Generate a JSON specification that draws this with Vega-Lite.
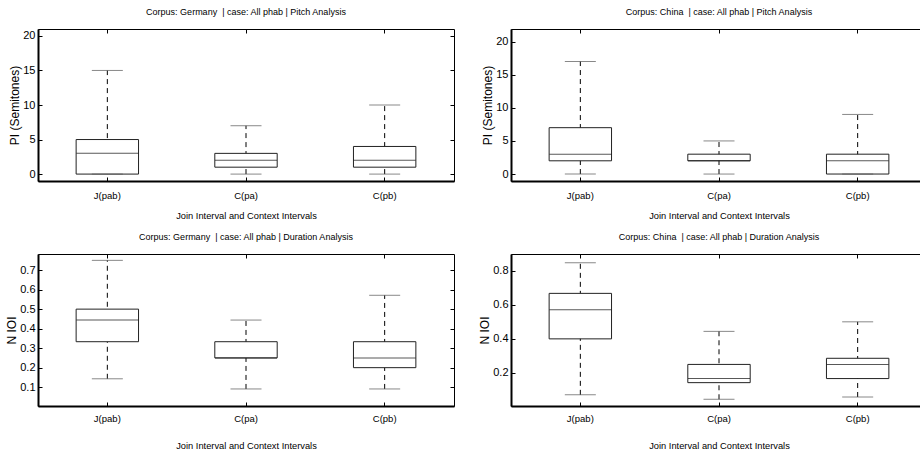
{
  "$schema": "https://vega.github.io/schema/vega-lite/v6.json",
  "background": "white",
  "padding": {"left": 5, "top": 7, "right": 0, "bottom": 0},
  "bounds": "flush",
  "columns": 2,
  "spacing": {"row": 73, "column": 57},
  "datasets": {
    "gp": [
      {"cat": "J(pab)", "lo": 0, "q1": 0, "med": 3, "q3": 5, "hi": 15},
      {"cat": "C(pa)", "lo": 0, "q1": 1, "med": 2, "q3": 3, "hi": 7},
      {"cat": "C(pb)", "lo": 0, "q1": 1, "med": 2, "q3": 4, "hi": 10}
    ],
    "cp": [
      {"cat": "J(pab)", "lo": 0, "q1": 2, "med": 3, "q3": 7, "hi": 17},
      {"cat": "C(pa)", "lo": 0, "q1": 2, "med": 2, "q3": 3, "hi": 5},
      {"cat": "C(pb)", "lo": 0, "q1": 0, "med": 2, "q3": 3, "hi": 9}
    ],
    "gd": [
      {"cat": "J(pab)", "lo": 0.143, "q1": 0.333, "med": 0.444, "q3": 0.5, "hi": 0.75},
      {"cat": "C(pa)", "lo": 0.0909, "q1": 0.25, "med": 0.25, "q3": 0.333, "hi": 0.444},
      {"cat": "C(pb)", "lo": 0.0909, "q1": 0.2, "med": 0.25, "q3": 0.333, "hi": 0.571}
    ],
    "cd": [
      {"cat": "J(pab)", "lo": 0.0714, "q1": 0.4, "med": 0.571, "q3": 0.667, "hi": 0.846},
      {"cat": "C(pa)", "lo": 0.0455, "q1": 0.143, "med": 0.167, "q3": 0.25, "hi": 0.444},
      {"cat": "C(pb)", "lo": 0.0588, "q1": 0.167, "med": 0.25, "q3": 0.286, "hi": 0.5}
    ]
  },
  "concat": [
    {
      "width": 416, "height": 152,
      "title": {"text": "Corpus: Germany\u00a0 | case: All phab | Pitch Analysis"},
      "data": {"name": "gp"},
      "resolve": {"axis": {"x": "independent", "y": "independent"}},
      "layer": [
        {"mark": {"type": "rule", "strokeDash": [5, 4], "color": "black", "strokeWidth": 1},
         "encoding": {
           "x": {"field": "cat", "type": "nominal", "sort": ["J(pab)", "C(pa)", "C(pb)"], "scale": {"paddingInner": 0, "paddingOuter": 0},
                 "axis": {"orient": "bottom", "title": "Join Interval and Context Intervals", "labelAngle": 0, "labelFontSize": 9.5, "titleFontSize": 9.3, "tickSize": -4, "labelPadding": 13, "titlePadding": 12, "domainWidth": 2}},
           "y": {"field": "lo", "type": "quantitative", "scale": {"domain": [-1, 21], "nice": false, "zero": false},
                 "axis": {"orient": "left", "title": "PI (Semitones)", "values": [0, 5, 10, 15, 20], "labelFontSize": 11, "titleFontSize": 12, "tickSize": -4, "labelPadding": 7, "titlePadding": 1, "domainWidth": 2}},
           "y2": {"field": "hi"}}},
        {"mark": {"type": "bar", "fill": "white", "stroke": "#222222", "strokeWidth": 1, "width": {"band": 0.45}},
         "encoding": {
           "x": {"field": "cat", "type": "nominal", "sort": ["J(pab)", "C(pa)", "C(pb)"], "axis": {"orient": "top", "labels": false, "title": null, "tickSize": -4, "domain": false}},
           "y": {"field": "q1", "type": "quantitative", "axis": {"orient": "right", "labels": false, "title": null, "values": [0, 5, 10, 15, 20], "tickSize": -4, "domain": false}},
           "y2": {"field": "q3"}}},
        {"mark": {"type": "tick", "orient": "horizontal", "size": 31, "thickness": 1, "color": "#555555"},
         "encoding": {"x": {"field": "cat", "type": "nominal", "sort": ["J(pab)", "C(pa)", "C(pb)"], "axis": null}, "y": {"field": "hi", "type": "quantitative", "axis": null}}},
        {"mark": {"type": "tick", "orient": "horizontal", "size": 31, "thickness": 1, "color": "#555555"},
         "encoding": {"x": {"field": "cat", "type": "nominal", "sort": ["J(pab)", "C(pa)", "C(pb)"], "axis": null}, "y": {"field": "lo", "type": "quantitative", "axis": null}}},
        {"mark": {"type": "tick", "orient": "horizontal", "size": 62, "thickness": 1, "color": "#111111"},
         "encoding": {"x": {"field": "cat", "type": "nominal", "sort": ["J(pab)", "C(pa)", "C(pb)"], "axis": null}, "y": {"field": "med", "type": "quantitative", "axis": null}}}
      ]
    },
    {
      "width": 416, "height": 152,
      "title": {"text": "Corpus: China\u00a0 | case: All phab | Pitch Analysis"},
      "data": {"name": "cp"},
      "resolve": {"axis": {"x": "independent", "y": "independent"}},
      "layer": [
        {"mark": {"type": "rule", "strokeDash": [5, 4], "color": "black", "strokeWidth": 1},
         "encoding": {
           "x": {"field": "cat", "type": "nominal", "sort": ["J(pab)", "C(pa)", "C(pb)"], "scale": {"paddingInner": 0, "paddingOuter": 0},
                 "axis": {"orient": "bottom", "title": "Join Interval and Context Intervals", "labelAngle": 0, "labelFontSize": 9.5, "titleFontSize": 9.3, "tickSize": -4, "labelPadding": 13, "titlePadding": 12, "domainWidth": 2}},
           "y": {"field": "lo", "type": "quantitative", "scale": {"domain": [-1.05, 21.9], "nice": false, "zero": false},
                 "axis": {"orient": "left", "title": "PI (Semitones)", "values": [0, 5, 10, 15, 20], "labelFontSize": 11, "titleFontSize": 12, "tickSize": -4, "labelPadding": 7, "titlePadding": 1, "domainWidth": 2}},
           "y2": {"field": "hi"}}},
        {"mark": {"type": "bar", "fill": "white", "stroke": "#222222", "strokeWidth": 1, "width": {"band": 0.45}},
         "encoding": {
           "x": {"field": "cat", "type": "nominal", "sort": ["J(pab)", "C(pa)", "C(pb)"], "axis": {"orient": "top", "labels": false, "title": null, "tickSize": -4, "domain": false}},
           "y": {"field": "q1", "type": "quantitative", "axis": {"orient": "right", "labels": false, "title": null, "values": [0, 5, 10, 15, 20], "tickSize": -4, "domain": false}},
           "y2": {"field": "q3"}}},
        {"mark": {"type": "tick", "orient": "horizontal", "size": 31, "thickness": 1, "color": "#555555"},
         "encoding": {"x": {"field": "cat", "type": "nominal", "sort": ["J(pab)", "C(pa)", "C(pb)"], "axis": null}, "y": {"field": "hi", "type": "quantitative", "axis": null}}},
        {"mark": {"type": "tick", "orient": "horizontal", "size": 31, "thickness": 1, "color": "#555555"},
         "encoding": {"x": {"field": "cat", "type": "nominal", "sort": ["J(pab)", "C(pa)", "C(pb)"], "axis": null}, "y": {"field": "lo", "type": "quantitative", "axis": null}}},
        {"mark": {"type": "tick", "orient": "horizontal", "size": 62, "thickness": 1, "color": "#111111"},
         "encoding": {"x": {"field": "cat", "type": "nominal", "sort": ["J(pab)", "C(pa)", "C(pb)"], "axis": null}, "y": {"field": "med", "type": "quantitative", "axis": null}}}
      ]
    },
    {
      "width": 416, "height": 152,
      "title": {"text": "Corpus: Germany\u00a0 | case: All phab | Duration Analysis"},
      "data": {"name": "gd"},
      "resolve": {"axis": {"x": "independent", "y": "independent"}},
      "layer": [
        {"mark": {"type": "rule", "strokeDash": [5, 4], "color": "black", "strokeWidth": 1},
         "encoding": {
           "x": {"field": "cat", "type": "nominal", "sort": ["J(pab)", "C(pa)", "C(pb)"], "scale": {"paddingInner": 0, "paddingOuter": 0},
                 "axis": {"orient": "bottom", "title": "Join Interval and Context Intervals", "labelAngle": 0, "labelFontSize": 9.5, "titleFontSize": 9.3, "tickSize": -4, "labelPadding": 11, "titlePadding": 19, "domainWidth": 2}},
           "y": {"field": "lo", "type": "quantitative", "scale": {"domain": [0.0035, 0.7826], "nice": false, "zero": false},
                 "axis": {"orient": "left", "title": "N IOI", "values": [0.1, 0.2, 0.3, 0.4, 0.5, 0.6, 0.7], "format": ".1f", "labelFontSize": 11, "titleFontSize": 12, "tickSize": -4, "labelPadding": 7, "titlePadding": 1, "domainWidth": 2}},
           "y2": {"field": "hi"}}},
        {"mark": {"type": "bar", "fill": "white", "stroke": "#222222", "strokeWidth": 1, "width": {"band": 0.45}},
         "encoding": {
           "x": {"field": "cat", "type": "nominal", "sort": ["J(pab)", "C(pa)", "C(pb)"], "axis": {"orient": "top", "labels": false, "title": null, "tickSize": -4, "domain": false}},
           "y": {"field": "q1", "type": "quantitative", "axis": {"orient": "right", "labels": false, "title": null, "values": [0.1, 0.2, 0.3, 0.4, 0.5, 0.6, 0.7], "tickSize": -4, "domain": false}},
           "y2": {"field": "q3"}}},
        {"mark": {"type": "tick", "orient": "horizontal", "size": 31, "thickness": 1, "color": "#555555"},
         "encoding": {"x": {"field": "cat", "type": "nominal", "sort": ["J(pab)", "C(pa)", "C(pb)"], "axis": null}, "y": {"field": "hi", "type": "quantitative", "axis": null}}},
        {"mark": {"type": "tick", "orient": "horizontal", "size": 31, "thickness": 1, "color": "#555555"},
         "encoding": {"x": {"field": "cat", "type": "nominal", "sort": ["J(pab)", "C(pa)", "C(pb)"], "axis": null}, "y": {"field": "lo", "type": "quantitative", "axis": null}}},
        {"mark": {"type": "tick", "orient": "horizontal", "size": 62, "thickness": 1, "color": "#111111"},
         "encoding": {"x": {"field": "cat", "type": "nominal", "sort": ["J(pab)", "C(pa)", "C(pb)"], "axis": null}, "y": {"field": "med", "type": "quantitative", "axis": null}}}
      ]
    },
    {
      "width": 416, "height": 152,
      "title": {"text": "Corpus: China\u00a0 | case: All phab | Duration Analysis"},
      "data": {"name": "cd"},
      "resolve": {"axis": {"x": "independent", "y": "independent"}},
      "layer": [
        {"mark": {"type": "rule", "strokeDash": [5, 4], "color": "black", "strokeWidth": 1},
         "encoding": {
           "x": {"field": "cat", "type": "nominal", "sort": ["J(pab)", "C(pa)", "C(pb)"], "scale": {"paddingInner": 0, "paddingOuter": 0},
                 "axis": {"orient": "bottom", "title": "Join Interval and Context Intervals", "labelAngle": 0, "labelFontSize": 9.5, "titleFontSize": 9.3, "tickSize": -4, "labelPadding": 11, "titlePadding": 19, "domainWidth": 2}},
           "y": {"field": "lo", "type": "quantitative", "scale": {"domain": [0.006, 0.898], "nice": false, "zero": false},
                 "axis": {"orient": "left", "title": "N IOI", "values": [0.2, 0.4, 0.6, 0.8], "format": ".1f", "labelFontSize": 11, "titleFontSize": 12, "tickSize": -4, "labelPadding": 7, "titlePadding": 1, "domainWidth": 2}},
           "y2": {"field": "hi"}}},
        {"mark": {"type": "bar", "fill": "white", "stroke": "#222222", "strokeWidth": 1, "width": {"band": 0.45}},
         "encoding": {
           "x": {"field": "cat", "type": "nominal", "sort": ["J(pab)", "C(pa)", "C(pb)"], "axis": {"orient": "top", "labels": false, "title": null, "tickSize": -4, "domain": false}},
           "y": {"field": "q1", "type": "quantitative", "axis": {"orient": "right", "labels": false, "title": null, "values": [0.2, 0.4, 0.6, 0.8], "tickSize": -4, "domain": false}},
           "y2": {"field": "q3"}}},
        {"mark": {"type": "tick", "orient": "horizontal", "size": 31, "thickness": 1, "color": "#555555"},
         "encoding": {"x": {"field": "cat", "type": "nominal", "sort": ["J(pab)", "C(pa)", "C(pb)"], "axis": null}, "y": {"field": "hi", "type": "quantitative", "axis": null}}},
        {"mark": {"type": "tick", "orient": "horizontal", "size": 31, "thickness": 1, "color": "#555555"},
         "encoding": {"x": {"field": "cat", "type": "nominal", "sort": ["J(pab)", "C(pa)", "C(pb)"], "axis": null}, "y": {"field": "lo", "type": "quantitative", "axis": null}}},
        {"mark": {"type": "tick", "orient": "horizontal", "size": 62, "thickness": 1, "color": "#111111"},
         "encoding": {"x": {"field": "cat", "type": "nominal", "sort": ["J(pab)", "C(pa)", "C(pb)"], "axis": null}, "y": {"field": "med", "type": "quantitative", "axis": null}}}
      ]
    }
  ],
  "config": {
    "view": {"stroke": "black", "strokeWidth": 1},
    "axis": {
      "labelFont": "Liberation Sans", "labelFontSize": 10, "labelColor": "black",
      "titleFont": "Liberation Sans", "titleFontSize": 10, "titleFontWeight": "normal", "titleColor": "black",
      "domainColor": "black", "tickColor": "black", "grid": false
    },
    "title": {"font": "Liberation Sans", "fontSize": 9, "fontWeight": "normal", "color": "black", "anchor": "middle", "offset": 12}
  }
}
